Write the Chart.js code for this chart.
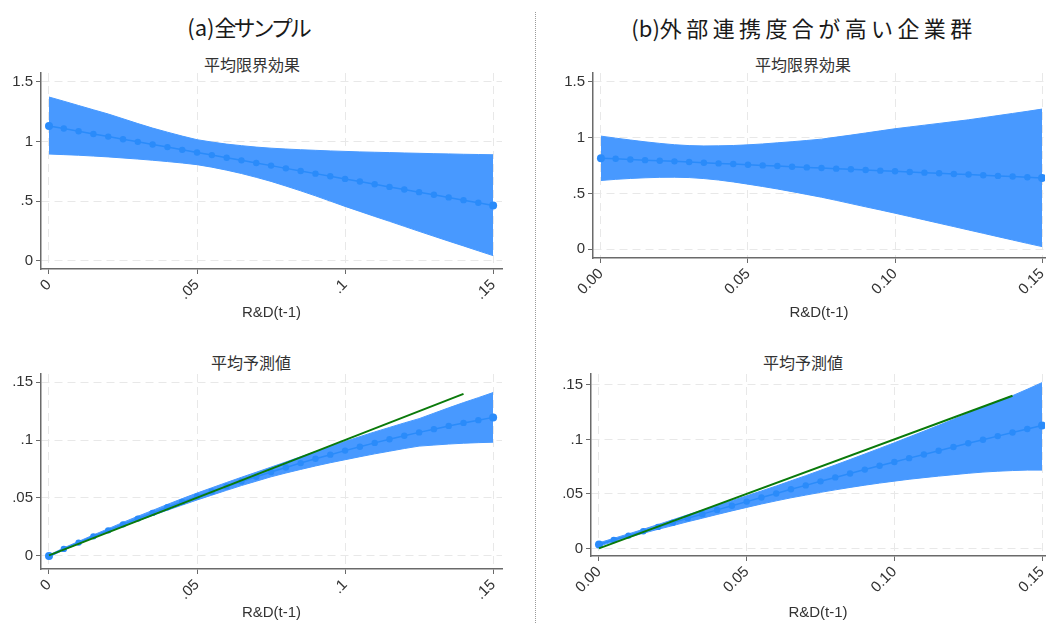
<!DOCTYPE html>
<html>
<head>
<meta charset="utf-8">
<script src="https://cdn.jsdelivr.net/npm/chart.js@4.4.1/dist/chart.umd.min.js"></script>
<style>
  body { margin: 0; background: #fff; width: 1049px; height: 623px; position: relative; overflow: hidden;
         font-family: "Noto Sans CJK JP", sans-serif; }
  canvas { position: absolute; }
  .t { position: absolute; transform: translate(-50%, -50%); white-space: nowrap; color: #1a1a1a; }
  .main { font-size: 22px; }
  .sub { font-size: 16px; color: #333; }
  .sep { position: absolute; left: 535px; top: 12px; height: 611px; border-left: 1px dotted #9a9a9a; }
</style>
</head>
<body>
<div class="t main" style="left:248px;top:26px">(a)<span style="letter-spacing:-3px">全サンプル</span></div>
<div class="t main" style="left:804px;top:27px">(b)<span style="letter-spacing:4.4px">外部連携度合が高い企業群</span></div>
<div class="sep"></div>
<div class="t sub" style="left:252px;top:64px">平均限界効果</div>
<div class="t sub" style="left:803px;top:64px">平均限界効果</div>
<div class="t sub" style="left:251px;top:362px">平均予測値</div>
<div class="t sub" style="left:803px;top:362px">平均予測値</div>
<canvas id="meA"></canvas>
<canvas id="meB"></canvas>
<canvas id="prA"></canvas>
<canvas id="prB"></canvas>
<script>
// R&D(t-1) grid shared by all panels
const rd = [0, 0.005, 0.01, 0.015, 0.02, 0.025, 0.03, 0.035, 0.04, 0.045, 0.05, 0.055, 0.06, 0.065, 0.07, 0.075,
  0.08, 0.085, 0.09, 0.095, 0.1, 0.105, 0.11, 0.115, 0.12, 0.125, 0.13, 0.135, 0.14, 0.145, 0.15];

// (a) average marginal effect
const meA = [1.130, 1.108, 1.086, 1.063, 1.041, 1.019, 0.997, 0.975, 0.953, 0.930, 0.908, 0.886, 0.864, 0.842, 0.820, 0.798,
  0.775, 0.753, 0.731, 0.709, 0.687, 0.665, 0.642, 0.620, 0.598, 0.576, 0.554, 0.532, 0.509, 0.487, 0.465];
const meAHi = [1.372, 1.337, 1.301, 1.265, 1.230, 1.190, 1.150, 1.112, 1.078, 1.045, 1.015, 0.995, 0.978, 0.965, 0.953, 0.944,
  0.937, 0.931, 0.926, 0.921, 0.917, 0.913, 0.910, 0.907, 0.904, 0.901, 0.898, 0.896, 0.893, 0.891, 0.889];
const meALo = [0.895, 0.890, 0.885, 0.878, 0.871, 0.862, 0.853, 0.843, 0.832, 0.820, 0.806, 0.785, 0.760, 0.732, 0.700, 0.666,
  0.627, 0.587, 0.545, 0.501, 0.457, 0.415, 0.373, 0.332, 0.290, 0.248, 0.207, 0.166, 0.126, 0.085, 0.045];

// (a) average predicted value
const prA = [-0.0006, 0.0056, 0.0111, 0.0165, 0.0217, 0.0269, 0.0319, 0.0368, 0.0417, 0.0464, 0.0510, 0.0554, 0.0598, 0.0641,
  0.0682, 0.0723, 0.0762, 0.0800, 0.0837, 0.0873, 0.0908, 0.0942, 0.0975, 0.1006, 0.1037, 0.1066, 0.1094, 0.1122, 0.1148, 0.1172, 0.1196];
const prAHi = [0.0003, 0.0065, 0.0121, 0.0177, 0.0231, 0.0286, 0.0339, 0.0390, 0.0442, 0.0492, 0.0540, 0.0586, 0.0632, 0.0677,
  0.0721, 0.0765, 0.0810, 0.0855, 0.0899, 0.0943, 0.0987, 0.1029, 0.1070, 0.1109, 0.1148, 0.1185, 0.1232, 0.1279, 0.1324, 0.1367, 0.1411];
const prALo = [-0.0015, 0.0047, 0.0101, 0.0153, 0.0203, 0.0252, 0.0299, 0.0346, 0.0392, 0.0436, 0.0480, 0.0522, 0.0564, 0.0605,
  0.0643, 0.0681, 0.0714, 0.0745, 0.0775, 0.0803, 0.0829, 0.0855, 0.0880, 0.0903, 0.0926, 0.0947, 0.0956, 0.0965, 0.0972, 0.0977, 0.0981];

// (b) average marginal effect
const meB = [0.816, 0.810, 0.804, 0.798, 0.792, 0.787, 0.781, 0.775, 0.769, 0.763, 0.757, 0.751, 0.745, 0.739, 0.733, 0.728,
  0.722, 0.716, 0.710, 0.704, 0.698, 0.692, 0.686, 0.680, 0.674, 0.669, 0.663, 0.657, 0.651, 0.645, 0.639];
const meBHi = [1.013, 0.995, 0.978, 0.962, 0.948, 0.936, 0.928, 0.925, 0.926, 0.929, 0.935, 0.943, 0.953, 0.963, 0.974, 0.986,
  1.004, 1.022, 1.041, 1.060, 1.079, 1.095, 1.111, 1.127, 1.143, 1.159, 1.178, 1.197, 1.216, 1.235, 1.255];
const meBLo = [0.616, 0.626, 0.634, 0.640, 0.644, 0.645, 0.642, 0.633, 0.620, 0.603, 0.583, 0.562, 0.540, 0.516, 0.491, 0.466,
  0.438, 0.409, 0.380, 0.352, 0.323, 0.293, 0.263, 0.233, 0.203, 0.173, 0.143, 0.113, 0.083, 0.053, 0.024];

// (b) average predicted value
const prB = [0.0036, 0.0077, 0.0117, 0.0157, 0.0197, 0.0236, 0.0276, 0.0314, 0.0353, 0.0391, 0.0429, 0.0467, 0.0504, 0.0542,
  0.0578, 0.0615, 0.0651, 0.0687, 0.0723, 0.0758, 0.0793, 0.0828, 0.0862, 0.0896, 0.0930, 0.0964, 0.0997, 0.1030, 0.1063, 0.1095, 0.1127];
const prBHi = [0.0051, 0.0092, 0.0133, 0.0175, 0.0219, 0.0263, 0.0308, 0.0351, 0.0395, 0.0438, 0.0482, 0.0527, 0.0572, 0.0620,
  0.0667, 0.0716, 0.0765, 0.0815, 0.0866, 0.0917, 0.0969, 0.1022, 0.1075, 0.1129, 0.1184, 0.1239, 0.1294, 0.1350, 0.1401, 0.1460, 0.1521];
const prBLo = [0.0021, 0.0062, 0.0101, 0.0139, 0.0175, 0.0209, 0.0244, 0.0277, 0.0311, 0.0344, 0.0376, 0.0407, 0.0436, 0.0464,
  0.0489, 0.0514, 0.0537, 0.0559, 0.0580, 0.0599, 0.0617, 0.0634, 0.0649, 0.0663, 0.0676, 0.0689, 0.0700, 0.0708, 0.0714, 0.0718, 0.0718];

// 45-degree reference line
const diagX = [0, 0.14];
const diagY = [0, 0.14];

// tick labels
const xTicks = [0, 0.05, 0.1, 0.15];
const meTicks = [0, 0.5, 1, 1.5];
const prTicks = [0, 0.05, 0.1, 0.15];

const bandColor = '#4899ff';
const lineColor = '#2a8bfa';
const green = '#0a7a0a';
const axisColor = '#6a6a6a';
const gridColor = '#e8e8e8';
const textColor = '#333';

Chart.defaults.font.family = "'Liberation Sans', Arial, sans-serif";
Chart.defaults.font.size = 15;

const stripZero = v => String(v).replace(/^0\./, '.');
const fixed2 = v => v.toFixed(2);

function panel(id, box, cfg) {
  const cv = document.getElementById(id);
  cv.width = box.w;
  cv.height = box.h;
  cv.style.left = box.x + 'px';
  cv.style.top = box.y + 'px';
  const pts = arr => rd.map((x, i) => ({ x: x, y: arr[i] }));
  const last = rd.length - 1;
  const datasets = [
    { data: pts(cfg.hi), borderColor: bandColor, backgroundColor: bandColor, borderWidth: 1,
      pointRadius: 0, fill: '+1', order: 3 },
    { data: pts(cfg.lo), borderColor: bandColor, borderWidth: 1, pointRadius: 0, fill: false, order: 3 },
    { data: pts(cfg.mean), borderColor: lineColor, backgroundColor: lineColor, borderWidth: 1.5,
      pointRadius: c => (c.dataIndex === 0 || c.dataIndex === last) ? 4 : 3.2, pointBorderWidth: 0, order: 2 }
  ];
  if (cfg.diag) {
    datasets.push({ data: diagX.map((x, i) => ({ x: x, y: diagY[i] })), borderColor: green,
      borderWidth: 2, pointRadius: 0, order: 1 });
  }
  new Chart(cv, {
    type: 'line',
    data: { datasets: datasets },
    options: {
      responsive: false,
      animation: false,
      devicePixelRatio: 1,
      layout: { padding: { top: box.pt, right: box.pr, left: 0, bottom: 0 } },
      plugins: { legend: { display: false }, tooltip: { enabled: false } },
      scales: {
        x: {
          type: 'linear', min: cfg.xMin, max: cfg.xMax,
          afterBuildTicks: s => { s.ticks = xTicks.map(v => ({ value: v })); },
          afterFit: s => { s.height = box.xh; s.paddingLeft = 0; s.paddingRight = 0; },
          ticks: { minRotation: 45, maxRotation: 45, autoSkip: false, color: textColor, callback: cfg.xFmt, padding: 2 },
          grid: { color: gridColor, tickLength: 5, tickColor: axisColor },
          border: { color: axisColor, width: 1.5, dash: [8, 5] },
          title: { display: true, text: 'R&D(t-1)', color: textColor, padding: 0 }
        },
        y: {
          type: 'linear', min: cfg.yMin, max: cfg.yMax,
          afterBuildTicks: s => { s.ticks = cfg.yTicks.map(v => ({ value: v })); },
          afterFit: s => { s.width = box.yw; },
          ticks: { color: textColor, callback: stripZero, padding: 3 },
          grid: { color: gridColor, tickLength: 5, tickColor: axisColor },
          border: { color: axisColor, width: 1.5, dash: [8, 5] }
        }
      }
    }
  });
}

panel('meA', { x: 0, y: 60, w: 525, h: 262, pt: 13, pr: 23, yw: 41, xh: 53 },
  { mean: meA, hi: meAHi, lo: meALo, xMin: -0.0027, xMax: 0.153, yMin: -0.067, yMax: 1.573,
    yTicks: meTicks, xFmt: stripZero });
panel('meB', { x: 545, y: 60, w: 504, h: 262, pt: 13, pr: 0, yw: 48, xh: 64 },
  { mean: meB, hi: meBHi, lo: meBLo, xMin: -0.0027, xMax: 0.151, yMin: -0.078, yMax: 1.578,
    yTicks: meTicks, xFmt: fixed2 });
panel('prA', { x: 0, y: 362, w: 525, h: 260, pt: 10, pr: 23, yw: 41, xh: 53 },
  { mean: prA, hi: prAHi, lo: prALo, xMin: -0.0027, xMax: 0.153, yMin: -0.0118, yMax: 0.1572,
    yTicks: prTicks, xFmt: stripZero, diag: true });
panel('prB', { x: 545, y: 362, w: 504, h: 260, pt: 10, pr: 0, yw: 46, xh: 66 },
  { mean: prB, hi: prBHi, lo: prBLo, xMin: -0.0027, xMax: 0.151, yMin: -0.007, yMax: 0.16,
    yTicks: prTicks, xFmt: fixed2, diag: true });
</script>
</body>
</html>
